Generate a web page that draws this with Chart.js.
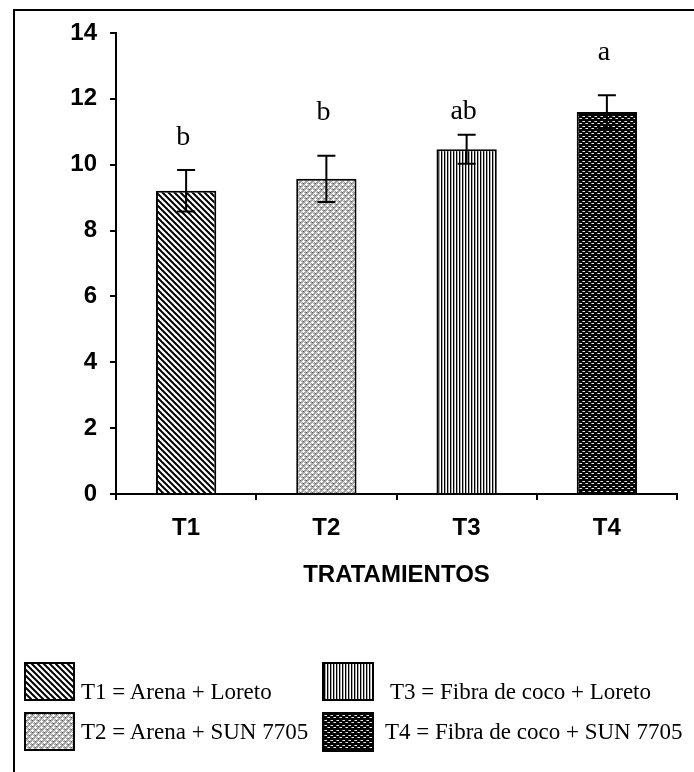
<!DOCTYPE html>
<html>
<head>
<meta charset="utf-8">
<script src="https://cdn.jsdelivr.net/npm/chart.js@4/dist/chart.umd.min.js"></script>
<style>
  body { margin: 0; background: #fff; }
  #wrap { position: relative; width: 694px; height: 772px; overflow: hidden; }
  #frame { position: absolute; left: 13px; top: 9px; width: 800px; height: 900px;
           border-left: 2px solid #000; border-top: 2px solid #000; }
  #chart { position: absolute; left: 0; top: 0; }
  .sw { position: absolute; box-sizing: border-box; border: 2px solid #000; }
  .lg { position: absolute; font-family: "Liberation Serif", "Times New Roman", serif;
        font-size: 23px; color: #000; white-space: nowrap; line-height: 1; }
</style>
</head>
<body>
<div id="wrap">
  <div id="frame"></div>
  <canvas id="chart" width="694" height="772"></canvas>
  <canvas class="sw" id="sw0" width="47" height="35" style="left:24px;top:662px"></canvas>
  <div class="lg" style="left:81px;top:680px">T1 = Arena + Loreto</div>
  <canvas class="sw" id="sw1" width="47" height="35" style="left:24px;top:712px"></canvas>
  <div class="lg" style="left:81px;top:720px">T2 = Arena + SUN 7705</div>
  <canvas class="sw" id="sw2" width="48" height="35" style="left:322px;top:662px"></canvas>
  <div class="lg" style="left:390px;top:680px">T3 = Fibra de coco + Loreto</div>
  <canvas class="sw" id="sw3" width="48" height="36" style="left:322px;top:712px"></canvas>
  <div class="lg" style="left:385px;top:720px">T4 = Fibra de coco + SUN 7705</div>
</div>
<script>
// data
const categories = ['T1', 'T2', 'T3', 'T4'];
const means = [9.21, 9.57, 10.47, 11.6];
const errors = [0.63, 0.7, 0.44, 0.51];
const letters = ['b', 'b', 'ab', 'a'];
const letterHeights = [10.6, 11.35, 11.4, 13.18];
const yMin = 0, yMax = 14, yStep = 2;
const axisTitle = 'TRATAMIENTOS';

// fill patterns for each treatment
function makePattern(kind) {
  const c = document.createElement('canvas');
  const x = c.getContext('2d');
  if (kind === 0) {
    c.width = 6; c.height = 6;
    x.fillStyle = '#fff'; x.fillRect(0, 0, 6, 6);
    x.strokeStyle = '#000'; x.lineWidth = 2;
    for (let o = -6; o <= 6; o += 6) {
      x.beginPath(); x.moveTo(o - 1, -1); x.lineTo(o + 7, 7); x.stroke();
    }
  } else if (kind === 1) {
    c.width = 6; c.height = 6;
    x.fillStyle = '#a8a8a8'; x.fillRect(0, 0, 6, 6);
    x.fillStyle = '#5a5a5a';
    x.fillRect(0, 0, 1, 1); x.fillRect(3, 3, 1, 1);
    x.fillStyle = '#fff';
    x.fillRect(3, 0, 1, 1); x.fillRect(2, 1, 3, 1); x.fillRect(3, 2, 1, 1);
    x.fillRect(0, 3, 1, 1); x.fillRect(5, 4, 1, 1); x.fillRect(0, 4, 2, 1); x.fillRect(0, 5, 1, 1);
    x.fillStyle = '#e0e0e0';
    x.fillRect(1, 2, 1, 1); x.fillRect(4, 5, 1, 1);
  } else if (kind === 2) {
    c.width = 3; c.height = 3;
    x.fillStyle = '#000'; x.fillRect(0, 0, 1, 3);
    x.fillStyle = '#aaa'; x.fillRect(1, 0, 1, 3);
    x.fillStyle = '#fff'; x.fillRect(2, 0, 1, 3);
  } else {
    c.width = 6; c.height = 5;
    x.fillStyle = '#000'; x.fillRect(0, 0, 6, 5);
    x.fillStyle = '#e6e6e6';
    x.fillRect(1, 1, 2, 1); x.fillRect(4, 3, 2, 1);
    x.fillStyle = '#888';
    x.fillRect(0, 1, 1, 1); x.fillRect(3, 3, 1, 1);
  }
  return x.createPattern(c, 'repeat');
}
const patterns = categories.map((_, i) => makePattern(i));

// legend swatches
categories.forEach((_, i) => {
  const s = document.getElementById('sw' + i);
  const g = s.getContext('2d');
  g.fillStyle = makePattern(i);
  g.fillRect(0, 0, s.width, s.height);
});

const errorBars = {
  id: 'errorBars',
  afterDatasetsDraw(chart) {
    const ctx = chart.ctx;
    const y = chart.scales.y;
    const meta = chart.getDatasetMeta(0);
    ctx.save();
    ctx.strokeStyle = '#000';
    ctx.lineWidth = 2;
    meta.data.forEach((bar, i) => {
      const top = y.getPixelForValue(means[i] + errors[i]);
      const bot = y.getPixelForValue(means[i] - errors[i]);
      ctx.beginPath();
      ctx.moveTo(bar.x, top); ctx.lineTo(bar.x, bot);
      ctx.moveTo(bar.x - 9, top); ctx.lineTo(bar.x + 9, top);
      ctx.moveTo(bar.x - 9, bot); ctx.lineTo(bar.x + 9, bot);
      ctx.stroke();
    });
    // significance letters
    ctx.fillStyle = '#000';
    ctx.font = '28px "Liberation Serif", "Times New Roman", serif';
    ctx.textAlign = 'center';
    ctx.textBaseline = 'alphabetic';
    meta.data.forEach((bar, i) => {
      ctx.fillText(letters[i], bar.x - 3, y.getPixelForValue(letterHeights[i]));
    });
    ctx.restore();
  }
};

const boldFont = { family: 'Liberation Sans', size: 24, weight: 'bold' };

new Chart(document.getElementById('chart'), {
  type: 'bar',
  data: {
    labels: categories,
    datasets: [{
      data: means,
      backgroundColor: patterns,
      borderColor: '#000',
      borderWidth: 2,
      categoryPercentage: 1,
      barPercentage: 0.43
    }]
  },
  options: {
    responsive: false,
    devicePixelRatio: 1,
    animation: false,
    layout: { padding: { left: 0, top: 33, right: 17, bottom: 178 } },
    plugins: { legend: { display: false }, tooltip: { enabled: false } },
    scales: {
      x: {
        grid: { drawOnChartArea: false, tickLength: 6, color: '#000', lineWidth: 2 },
        border: { color: '#000', width: 2 },
        ticks: { color: '#000', padding: 14, font: boldFont },
        title: {
          display: true, text: axisTitle, color: '#000',
          font: boldFont,
          padding: { top: 0, bottom: 4 }
        },
        afterFit(scale) { scale.height = 100; }
      },
      y: {
        min: yMin, max: yMax,
        grid: { drawOnChartArea: false, tickLength: 6, color: '#000', lineWidth: 2 },
        border: { color: '#000', width: 2 },
        ticks: { stepSize: yStep, color: '#000', padding: 13, font: boldFont },
        afterFit(scale) { scale.width = 116; }
      }
    }
  },
  plugins: [errorBars]
});
</script>
</body>
</html>
